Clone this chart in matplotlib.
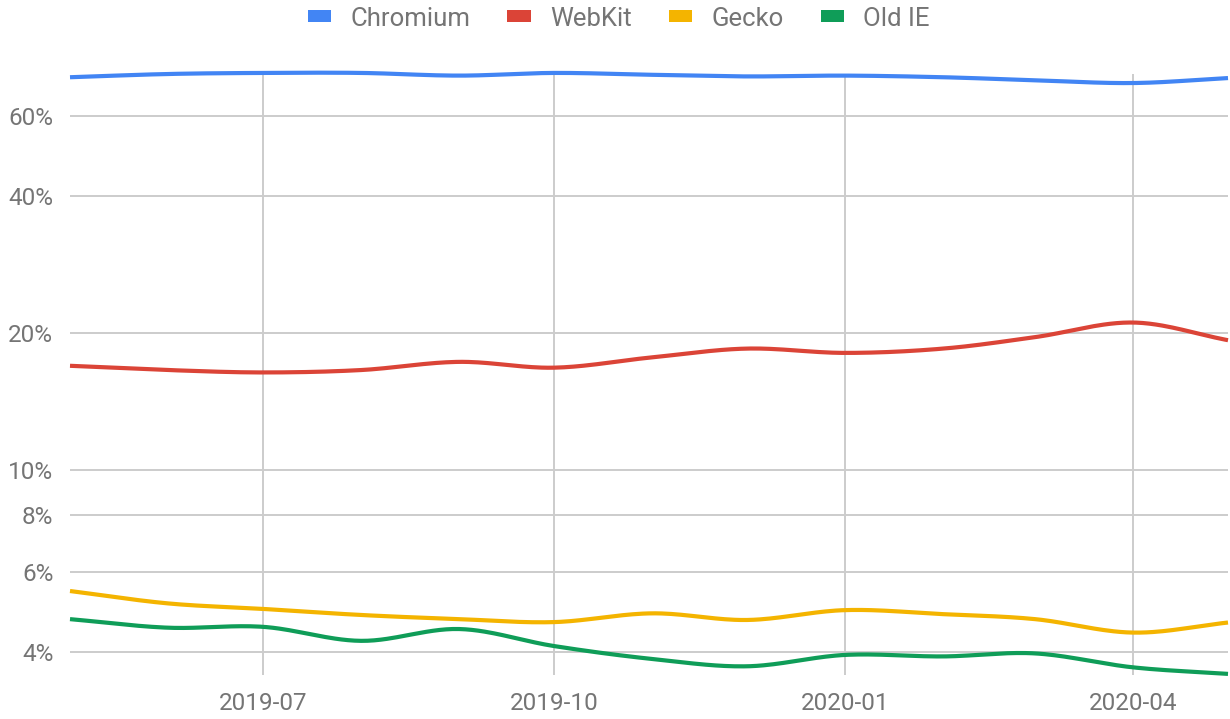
import numpy as np
import matplotlib
matplotlib.use("Agg")
import matplotlib.pyplot as plt
import matplotlib.dates as mdates
from matplotlib.patches import Patch
from matplotlib.ticker import FixedLocator, FixedFormatter, NullLocator
import datetime as dt

plt.rcParams['font.family'] = ['Roboto', 'DejaVu Sans']

months = ["2019-05", "2019-06", "2019-07", "2019-08", "2019-09", "2019-10", "2019-11",
          "2019-12", "2020-01", "2020-02", "2020-03", "2020-04", "2020-05"]
chromium = [72.8, 74.0, 74.4, 74.4, 73.4, 74.4, 73.7, 73.1, 73.4, 72.8, 71.7, 70.7, 72.5]
webkit = [16.96, 16.6, 16.4, 16.6, 17.3, 16.8, 17.7, 18.5, 18.1, 18.5, 19.6, 21.1, 19.3]
gecko = [5.44, 5.11, 4.97, 4.82, 4.72, 4.65, 4.86, 4.70, 4.94, 4.84, 4.72, 4.41, 4.64]
old_ie = [4.72, 4.52, 4.54, 4.23, 4.49, 4.12, 3.86, 3.72, 3.94, 3.91, 3.97, 3.70, 3.58]

series_names = ["Chromium", "WebKit", "Gecko", "Old IE"]
series_colors = ["#4285F4", "#DB4437", "#F4B400", "#0F9D58"]

y_ticks = [4, 6, 8, 10, 20, 40, 60]
y_tick_labels = ["4%", "6%", "8%", "10%", "20%", "40%", "60%"]
x_tick_dates = ["2019-07", "2019-10", "2020-01", "2020-04"]

GRAY = "#757575"
GRID = "#cccccc"


def to_num(m):
    y, mo = m.split("-")
    return mdates.date2num(dt.datetime(int(y), int(mo), 1))


def smooth(xs, ys, n=30):
    """Cubic Hermite curve through the points (in log-y space) for a smooth look."""
    x = np.asarray(xs, float)
    ly = np.log10(np.asarray(ys, float))
    m = np.zeros_like(ly)
    m[1:-1] = (ly[2:] - ly[:-2]) / (x[2:] - x[:-2])
    m[0] = (ly[1] - ly[0]) / (x[1] - x[0])
    m[-1] = (ly[-1] - ly[-2]) / (x[-1] - x[-2])
    out_x, out_y = [], []
    for i in range(len(x) - 1):
        h = x[i + 1] - x[i]
        t = np.linspace(0, 1, n, endpoint=(i == len(x) - 2))
        h00 = 2 * t**3 - 3 * t**2 + 1
        h10 = t**3 - 2 * t**2 + t
        h01 = -2 * t**3 + 3 * t**2
        h11 = t**3 - t**2
        yy = h00 * ly[i] + h10 * h * m[i] + h01 * ly[i + 1] + h11 * h * m[i + 1]
        out_x.append(x[i] + t * h)
        out_y.append(yy)
    return np.concatenate(out_x), 10 ** np.concatenate(out_y)


xnum = [to_num(m) for m in months]

fig = plt.figure(figsize=(12.30, 7.19), dpi=100)
ax = fig.add_axes([70 / 1230, 44 / 719, 1158 / 1230, (675 - 74) / 719])

ax.set_yscale("log")
ax.set_ylim(3.56, 74.0)
ax.set_xlim(xnum[0], xnum[-1])

for vals, name, col in zip([chromium, webkit, gecko, old_ie], series_names, series_colors):
    sx, sy = smooth(xnum, vals)
    ax.plot(sx, sy, color=col, lw=3.0, solid_capstyle="butt", clip_on=False, zorder=3)

ax.yaxis.set_major_locator(FixedLocator(y_ticks))
ax.yaxis.set_major_formatter(FixedFormatter(y_tick_labels))
ax.yaxis.set_minor_locator(NullLocator())
ax.set_xticks([to_num(d) for d in x_tick_dates])
ax.set_xticklabels(x_tick_dates)
ax.xaxis.set_minor_locator(NullLocator())

ax.grid(True, which="major", color=GRID, lw=1.4)
ax.set_axisbelow(True)
for s in ax.spines.values():
    s.set_visible(False)
ax.tick_params(axis="both", length=0, labelsize=17.5, colors=GRAY)
ax.tick_params(axis="y", pad=12)
ax.tick_params(axis="x", pad=12)

handles = [Patch(facecolor=c, edgecolor="none") for c in series_colors]
leg = fig.legend(handles, series_names, loc="upper center", bbox_to_anchor=(0.503, 1.023),
                 ncol=4, frameon=False, fontsize=18.5, handlelength=0.9, handleheight=0.35,
                 handletextpad=0.75, columnspacing=1.45)
for t in leg.get_texts():
    t.set_color(GRAY)

fig.savefig("out.png", dpi=100, facecolor="white")
